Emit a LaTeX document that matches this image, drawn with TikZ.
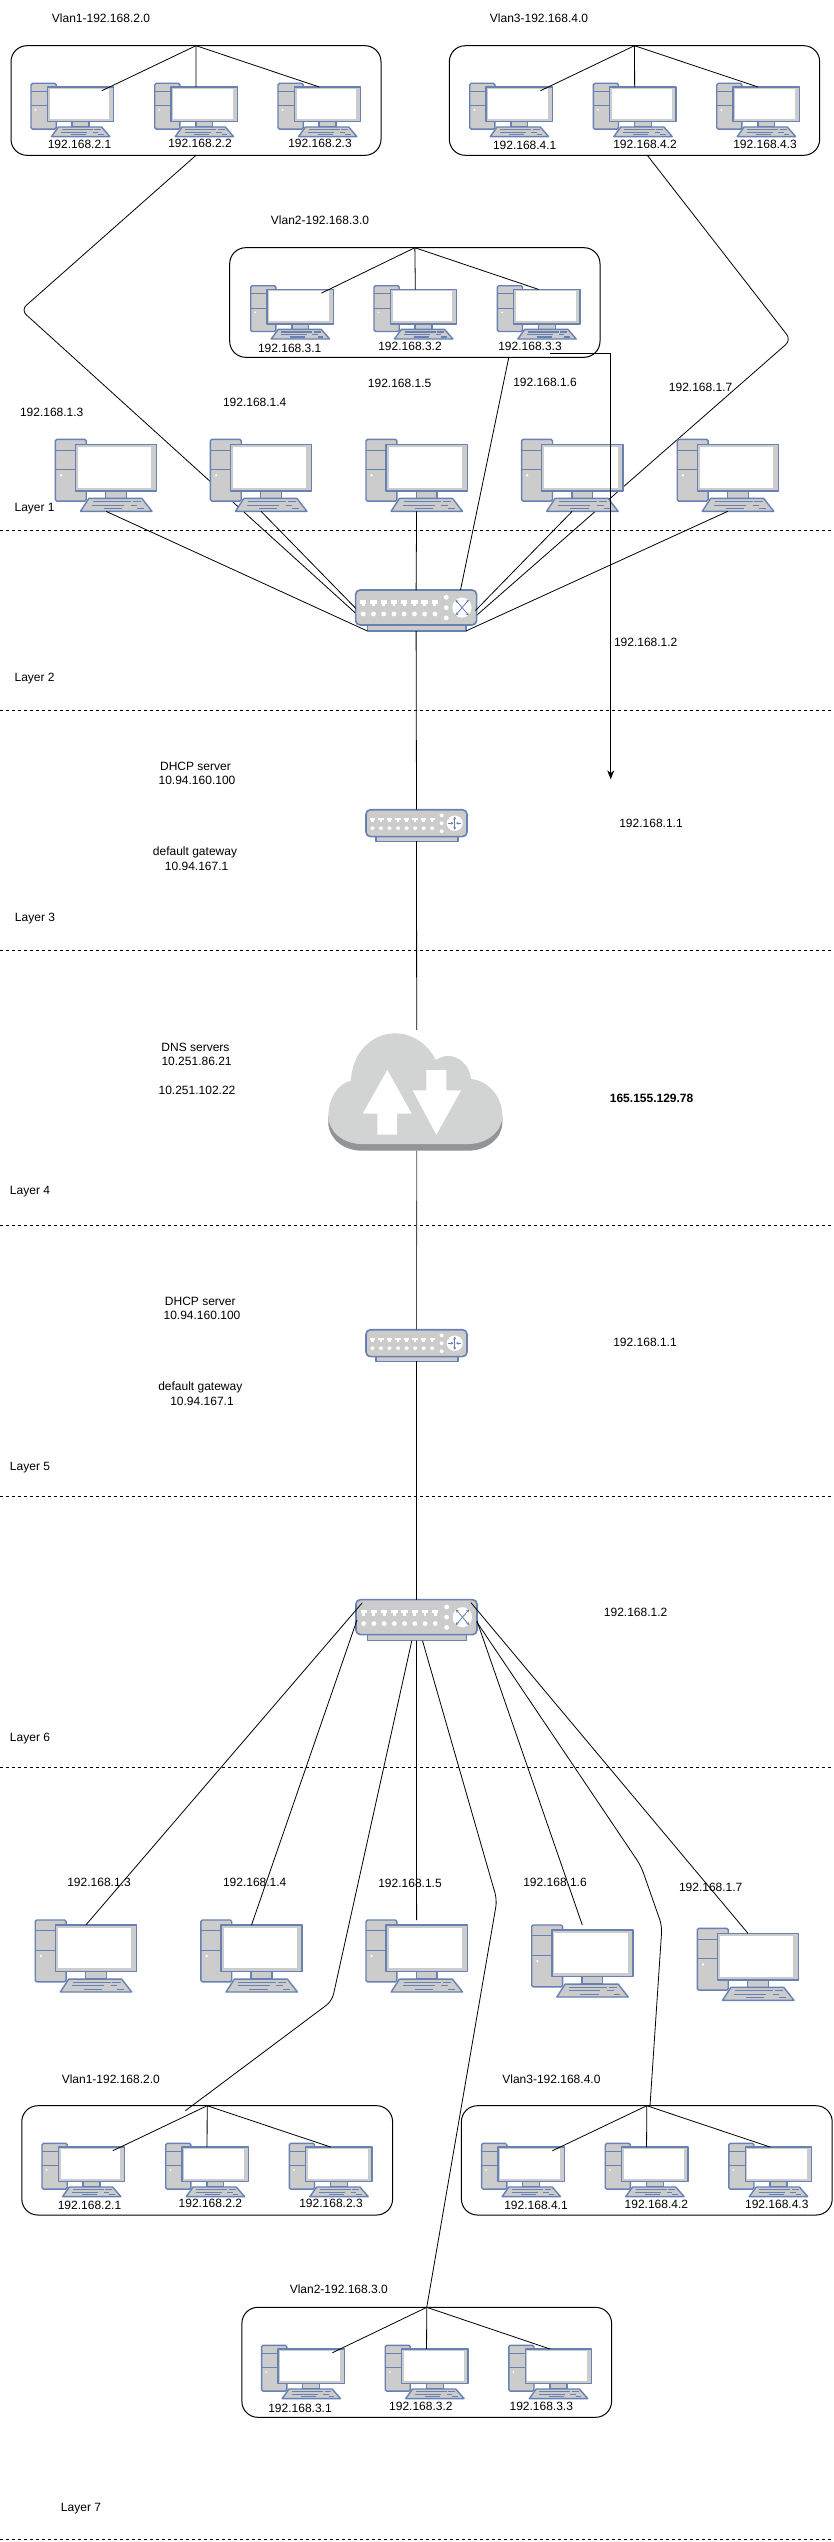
\documentclass[tikz,border=0pt]{standalone}
\usepackage{fontspec}
\setmainfont{Liberation Sans}
\usetikzlibrary{arrows.meta,backgrounds}
\definecolor{pcfill}{HTML}{CCCCCC}
\definecolor{pcline}{HTML}{6881B3}
\definecolor{cloudtop}{HTML}{D2D3D3}
\definecolor{cloudlow}{HTML}{929497}
\tikzset{
  lbl/.style={inner sep=0pt,outer sep=0pt,align=center,font=\fontsize{12}{14}\selectfont},
  lblb/.style={lbl,font=\fontsize{12}{14}\selectfont\bfseries},
  frame/.style={inner sep=0pt,outer sep=0pt,anchor=north west},
  vlanbox/.style={frame,draw=black,line width=1pt,rounded corners=16pt},
  wire/.style={draw=black,line width=.8pt,line join=round},
  bentwire/.style={wire,rounded corners=7pt},
  layerline/.style={draw=black,line width=1pt,dash pattern=on 3pt off 3pt},
  art/.style={draw=pcline,fill=pcfill,line width=1.4pt,line join=round},
  keybar/.style={draw=pcline,line width=1.1pt},
  arrowx/.style={draw=pcline,line width=.8pt,{Stealth[length=3pt,width=3pt]}-{Stealth[length=3pt,width=3pt]}},
  arrowi/.style={draw=pcline,line width=.8pt,-{Stealth[length=2.5pt,width=3pt]}},
}
% computer: name, x, y, w, h
\newcommand\pcicon[5]{%
  \node[frame,minimum width=#4pt,minimum height=#5pt] (#1) at (#2,#3) {};
  \begin{scope}[shift={(#2,#3)},x=#4pt,y=-#5pt]
    \path[art,rounded corners=1.5pt] (0,0) rectangle (.305,.859);
    \draw[keybar] (0,.15) -- (.305,.15) (0,.42) -- (.305,.42);
    \fill[white] (.056,.5) ellipse [x radius=.012,y radius=.018];
    \path[art] (.497,.718) rectangle (.702,.82);
    \path[art] (.331,.82) -- (.854,.82) -- (.954,1) -- (.248,1) -- cycle;
    \draw[keybar] (.371,.868) -- (.745,.868) (.762,.868) -- (.844,.868)
               (.364,.915) -- (.679,.915) (.745,.915) -- (.811,.915)
               (.48,.962) -- (.662,.962) (.81,.962) -- (.877,.962);
    \path[art] (.199,.07) rectangle (1,.718);
    \fill[white] (.225,.108) rectangle (.948,.671);
    \coordinate (#1-t) at (.5,.07);
    \coordinate (#1-a) at (.855,.14);
  \end{scope}}
\newcommand\bigpc[3]{\pcicon{#1}{#2}{#3}{101.2}{72}}
\newcommand\smallpc[3]{\pcicon{#1}{#2}{#3}{82.7}{53.3}}
% switch body: name, x, y, w, h
\newcommand\switchbody[5]{%
  \node[frame,minimum width=#4pt,minimum height=#5pt] (#1) at (#2,#3) {};
  \begin{scope}[shift={(#2,#3)},x=#4pt,y=-#5pt]
    \path[art] (.097,.8) rectangle (.912,1);
    \path[art,line width=1.6pt,rounded corners=4.5pt] (0,0) rectangle (1,.854);
    \foreach \i in {0,...,7} {
      \fill[white] ({.0635+.0845*\i-.026},.25) rectangle ({.0635+.0845*\i+.026},.335);
      \fill[white] ({.0635+.0845*\i-.012},.335) rectangle ({.0635+.0845*\i+.012},.39);
      \fill[white] ({.0635+.0845*\i},.585) ellipse [x radius=.02,y radius=.058];
    }
    \foreach \j in {.18,.43,.68} \fill[white] (.749,\j) ellipse [x radius=.02,y radius=.058];
    \fill[white] (.879,.43) ellipse [x radius=.08,y radius=.245];
    \coordinate (#1-bl) at (.097,1);
    \coordinate (#1-br) at (.912,1);
  \end{scope}}
\newcommand\switchX[3]{%
  \switchbody{#1}{#2}{#3}{121}{41}
  \begin{scope}[shift={(#2,#3)},x=121pt,y=-41pt]
    \draw[arrowx] (.825,.24) -- (.935,.62);
    \draw[arrowx] (.935,.24) -- (.825,.62);
  \end{scope}}
\newcommand\routerT[3]{%
  \switchbody{#1}{#2}{#3}{101}{31.5}
  \begin{scope}[shift={(#2,#3)},x=101pt,y=-31.5pt]
    \draw[arrowx] (.879,.22) -- (.879,.64);
    \draw[arrowi] (.815,.43) -- (.865,.43);
    \draw[arrowi] (.943,.43) -- (.893,.43);
  \end{scope}}
\begin{document}
\begin{tikzpicture}[x=1pt,y=-1pt]
\path[use as bounding box] (0,0) rectangle (833,2542);

% ---------- dashed layer lines ----------
\foreach \n/\yy in {1/530.3,2/710.3,3/950.3,4/1225,5/1496.7,6/1767.3,7/2539.7} {
  \coordinate (dl\n) at (0,\yy);
  \coordinate (dr\n) at (833,\yy);
  \draw[layerline] (dl\n) -- (dr\n);
}

% ---------- vlan frames ----------
\node[vlanbox,minimum width=370pt,minimum height=109.6pt] (vt1) at (11,45.7) {};
\node[vlanbox,minimum width=370.4pt,minimum height=109.6pt] (vt3) at (449.3,45.7) {};
\node[vlanbox,minimum width=370.3pt,minimum height=109.6pt] (vt2) at (229.7,247.7) {};
\node[vlanbox,minimum width=370.8pt,minimum height=109.3pt] (vb1) at (21.8,2105.7) {};
\node[vlanbox,minimum width=370.8pt,minimum height=109.3pt] (vb3) at (461.4,2105.7) {};
\node[vlanbox,minimum width=369.7pt,minimum height=110pt] (vb2) at (241.9,2307.3) {};

% ---------- small computers ----------
\smallpc{a1}{31}{83.3}\smallpc{a2}{154.7}{83.3}\smallpc{a3}{278}{83.3}
\smallpc{c1}{469.7}{83.3}\smallpc{c2}{593.3}{83.3}\smallpc{c3}{716.7}{83.3}
\smallpc{b1}{250.7}{285.7}\smallpc{b2}{374}{285.7}\smallpc{b3}{497.3}{285.7}
\smallpc{d1}{42}{2143.3}\smallpc{d2}{165.7}{2143.3}\smallpc{d3}{289.3}{2143.3}
\smallpc{f1}{481.6}{2143.3}\smallpc{f2}{605.2}{2143.3}\smallpc{f3}{728.8}{2143.3}
\smallpc{e1}{261.6}{2345.3}\smallpc{e2}{385.2}{2345.3}\smallpc{e3}{508.8}{2345.3}

% ---------- big computers ----------
\bigpc{p1}{55.4}{439.3}\bigpc{p2}{210.4}{439.3}\bigpc{p3}{366}{439.3}\bigpc{p4}{521.6}{439.3}\bigpc{p5}{677.2}{439.3}
\bigpc{q1}{35.2}{1920}\bigpc{q2}{200.9}{1920}\bigpc{q3}{366}{1920}\bigpc{q4}{531.7}{1925}\bigpc{q5}{697.4}{1928.3}

% ---------- switches and routers ----------
\switchX{sa}{355.6}{590}
\routerT{ra}{366}{809.7}
\routerT{rb}{366}{1329.7}
\switchX{sb}{356}{1599.6}

% ---------- cloud ----------
\node[frame,minimum width=171.4pt,minimum height=120.7pt] (cloud) at (331,1030) {};
\begin{scope}[shift={(300,1010)},x=.33333pt,y=-.33333pt]
  \fill[cloudlow] (85,318) -- (85,338) .. controls (85,385) and (130,422) .. (185,422) -- (505,422)
     .. controls (560,422) and (607,385) .. (607,338) -- (607,318) -- cycle;
  \fill[cloudtop] (85,318) .. controls (85,265) and (115,220) .. (153,212)
     .. controls (155,130) and (215,70) .. (285,70)
     .. controls (340,70) and (385,105) .. (407,150)
     .. controls (420,142) and (432,138) .. (445,138)
     .. controls (480,138) and (510,170) .. (513,207)
     .. controls (565,212) and (607,260) .. (607,318)
     .. controls (607,365) and (560,402) .. (505,402) -- (185,402)
     .. controls (130,402) and (85,365) .. (85,318) -- cycle;
  \fill[white] (262,180) -- (335,311) -- (291,311) -- (291,374) -- (232,374) -- (232,311) -- (188,311) -- cycle;
  \fill[white] (379,180) -- (439,180) -- (439,241) -- (483,241) -- (409,374) -- (338,241) -- (379,241) -- cycle;
\end{scope}

% ---------- free connector ends ----------
\coordinate (w1) at (21,310);
\coordinate (w3) at (791,340);
\coordinate (t3s) at (647.3,155.3);
\coordinate (sa1) at (355.9,613.5);
\coordinate (sa2) at (355.9,608.5);
\coordinate (sa3) at (475.5,610.5);
\coordinate (sa4) at (470.5,620.7);
\coordinate (sa5) at (460.5,590);
\coordinate (t2s) at (508.8,357.3);
\coordinate (arrS) at (550,353.3);
\coordinate (arrC) at (610.7,353.3);
\coordinate (arrE) at (610.7,779.3);
\coordinate (sb1) at (362.3,1602.7);
\coordinate (sb2) at (357,1620);
\coordinate (sb3) at (411.8,1640.7);
\coordinate (sb4) at (422.5,1640.7);
\coordinate (sb5) at (476.8,1622);
\coordinate (sb6) at (471,1602.7);
\coordinate (sb7) at (477,1621);
\coordinate (wb1) at (332,2001);
\coordinate (wb1e) at (185.4,2110.7);
\coordinate (wb2) at (497,1900);
\coordinate (wb3a) at (641,1866);
\coordinate (wb3b) at (662,1926);
\coordinate (wb3e) at (650,2105.7);

% ---------- connectors behind the computers ----------
\begin{pgfonlayer}{background}
  \fill[white] (0,0) rectangle (833,2542);
  \draw[bentwire] (vt1.south) -- (w1) -- (sa1);
  \draw[bentwire] (t3s) -- (w3) -- (sa4);
\end{pgfonlayer}

% ---------- arrow running over the computer ----------
\draw[wire,-{Stealth[length=9pt,width=7pt]}] (arrS) -- (arrC) -- (arrE);

% ---------- connectors in the upper vlan frames ----------
\draw[wire] (vt1.north) -- (a1-a);
\draw[wire] (vt1.north) -- (a2-t);
\draw[wire] (vt1.north) -- (a3-t);
\draw[wire] (vt3.north) -- (c1-a);
\draw[wire] (vt3.north) -- (c2-t);
\draw[wire] (vt3.north) -- (c3-t);
\draw[wire] (vt2.north) -- (b1-a);
\draw[wire] (vt2.north) -- (b2-t);
\draw[wire] (vt2.north) -- (b3-t);

% ---------- upper switch ----------
\draw[wire] (p1.south) -- (sa-bl);
\draw[wire] (p2.south) -- (sa2);
\draw[wire] (p3.south) -- (sa.north);
\draw[wire] (p4.south) -- (sa3);
\draw[wire] (p5.south) -- (sa-br);
\draw[wire] (t2s) -- (sa5);

% ---------- central column ----------
\draw[wire] (sa.south) -- (ra.north);
\draw[wire] (ra.south) -- (cloud.north);
\draw[wire,draw=black!70] (cloud.south) -- (rb.north);
\draw[wire] (rb.south) -- (sb.north);

% ---------- lower switch ----------
\draw[wire] (sb1) -- (q1-t);
\draw[wire] (sb2) -- (q2-t);
\draw[wire] (sb.south) -- (q3.north);
\draw[wire] (sb7) -- (q4.north);
\draw[wire] (sb6) -- (q5-t);
\draw[bentwire] (sb3) -- (wb1) -- (wb1e);
\draw[bentwire] (sb4) -- (wb2) -- (vb2.north);
\draw[bentwire] (sb5) -- (wb3a) -- (wb3b) -- (wb3e);

% ---------- connectors in the lower vlan frames ----------
\draw[wire] (vb1.north) -- (d1-a);
\draw[wire] (vb1.north) -- (d2-t);
\draw[wire] (vb1.north) -- (d3-t);
\draw[wire] (vb3.north) -- (f1-a);
\draw[wire] (vb3.north) -- (f2-t);
\draw[wire] (vb3.north) -- (f3-t);
\draw[wire] (vb2.north) -- (e1-a);
\draw[wire] (vb2.north) -- (e2-t);
\draw[wire] (vb2.north) -- (e3-t);

% ---------- texts ----------
\node[lbl] (tv1) at (101,18.3) {Vlan1-192.168.2.0};
\node[lbl] (tv3) at (539,18.3) {Vlan3-192.168.4.0};
\node[lbl] (tv2) at (320,220.7) {Vlan2-192.168.3.0};
\node[lbl] (la1) at (79.5,144.7) {192.168.2.1};
\node[lbl] (la2) at (200,143.7) {192.168.2.2};
\node[lbl] (la3) at (320,143.7) {192.168.2.3};
\node[lbl] (lc1) at (524.7,145.7) {192.168.4.1};
\node[lbl] (lc2) at (645,144.7) {192.168.4.2};
\node[lbl] (lc3) at (765,144.7) {192.168.4.3};
\node[lbl] (lb1) at (289.7,348) {192.168.3.1};
\node[lbl] (lb2) at (410,346.7) {192.168.3.2};
\node[lbl] (lb3) at (530,346.7) {192.168.3.3};
\node[lbl] (lp1) at (51.7,412.7) {192.168.1.3};
\node[lbl] (lp2) at (254.7,402.7) {192.168.1.4};
\node[lbl] (lp3) at (399.6,383.7) {192.168.1.5};
\node[lbl] (lp4) at (545,382.7) {192.168.1.6};
\node[lbl] (lp5) at (700.6,387.7) {192.168.1.7};
\node[lbl] (lsa) at (645.7,642.7) {192.168.1.2};
\node[lbl] (ll1) at (34.6,509) {Layer 1};
\node[lbl] (ll2) at (34.6,679) {Layer 2};
\node[lbl] (ll3) at (35,919) {Layer 3};
\node[lbl] (ll4) at (30,1191.7) {Layer 4};
\node[lbl] (ll5) at (30,1468) {Layer 5};
\node[lbl] (ll6) at (30,1739) {Layer 6};
\node[lbl] (ll7) at (81,2509) {Layer 7};
\node[lbl] (dh1) at (195.5,766.7) {DHCP server};
\node[lbl] (dh1a) at (197,780.7) {10.94.160.100};
\node[lbl] (gw1) at (195,852) {default gateway};
\node[lbl] (gw1a) at (196.6,866) {10.94.167.1};
\node[lbl] (lra) at (651,823.7) {192.168.1.1};
\node[lbl] (dn) at (195.5,1047) {DNS servers};
\node[lbl] (dn1) at (196.6,1061.7) {10.251.86.21};
\node[lbl] (dn2) at (197,1090.7) {10.251.102.22};
\node[lblb] (pub) at (651.6,1098.7) {165.155.129.78};
\node[lbl] (dh2) at (200.3,1301.7) {DHCP server};
\node[lbl] (dh2a) at (202,1315.7) {10.94.160.100};
\node[lbl] (gw2) at (200.3,1387) {default gateway};
\node[lbl] (gw2a) at (202,1401) {10.94.167.1};
\node[lbl] (lrb) at (645,1342.7) {192.168.1.1};
\node[lbl] (lsb) at (635.6,1612.7) {192.168.1.2};
\node[lbl] (lq1) at (99,1882.7) {192.168.1.3};
\node[lbl] (lq2) at (254.7,1882.7) {192.168.1.4};
\node[lbl] (lq3) at (410,1883.7) {192.168.1.5};
\node[lbl] (lq4) at (555,1882.7) {192.168.1.6};
\node[lbl] (lq5) at (710.7,1887.7) {192.168.1.7};
\node[lbl] (tv1b) at (110.8,2078.7) {Vlan1-192.168.2.0};
\node[lbl] (tv3b) at (551.4,2078.7) {Vlan3-192.168.4.0};
\node[lbl] (tv2b) at (338.8,2288.7) {Vlan2-192.168.3.0};
\node[lbl] (ld1) at (89.5,2205) {192.168.2.1};
\node[lbl] (ld2) at (210.4,2203.7) {192.168.2.2};
\node[lbl] (ld3) at (331,2203.7) {192.168.2.3};
\node[lbl] (lf1) at (536,2205.7) {192.168.4.1};
\node[lbl] (lf2) at (656.4,2204.7) {192.168.4.2};
\node[lbl] (lf3) at (776.8,2204.7) {192.168.4.3};
\node[lbl] (le1) at (300,2408) {192.168.3.1};
\node[lbl] (le2) at (420.9,2406.7) {192.168.3.2};
\node[lbl] (le3) at (541.3,2406.7) {192.168.3.3};
\end{tikzpicture}
\end{document}
